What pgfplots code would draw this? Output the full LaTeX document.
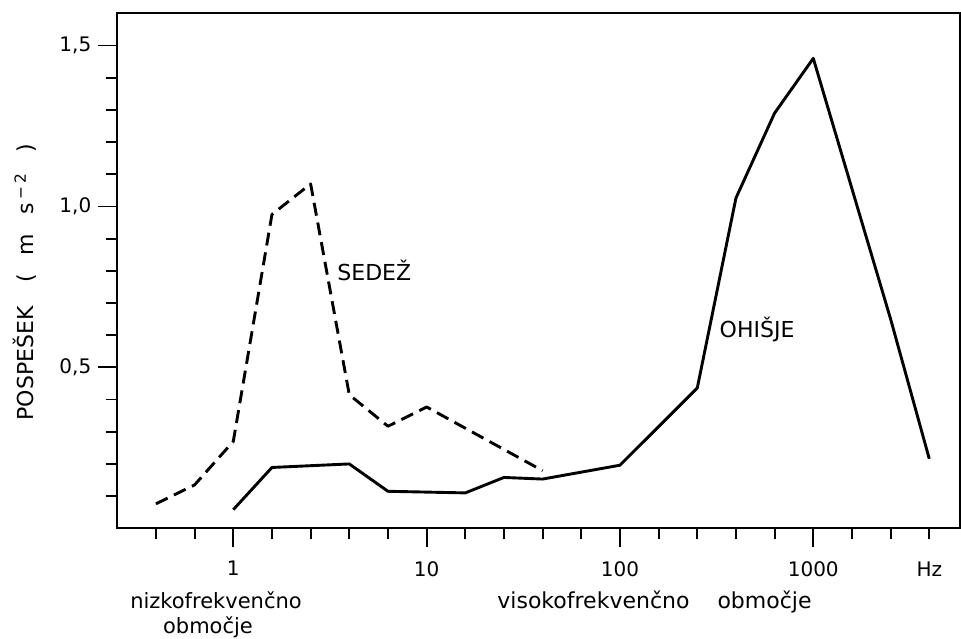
\documentclass[border=0pt]{standalone}
\usepackage{fontspec}
\setmainfont{DejaVu Sans}
\usepackage{pgfplots}
\pgfplotsset{compat=1.18}
\pgfplotstableread{
x y
0.3981 0.076
0.6310 0.135
1.0000 0.270
1.5849 0.975
2.5119 1.070
3.9811 0.415
6.3096 0.317
10.000 0.377
39.811 0.179
}\sedez
\pgfplotstableread{
x y
1.0000 0.058
1.5849 0.189
3.9811 0.200
6.3096 0.115
15.849 0.110
25.119 0.158
39.811 0.153
100.00 0.196
251.19 0.436
398.11 1.026
630.96 1.290
1000.0 1.460
2511.9 0.650
3981.1 0.216
}\ohisje
\begin{document}
\begin{tikzpicture}
\useasboundingbox (0,0) rectangle (480.5pt,319pt);
\begin{axis}[
  at={(58.65pt,54.85pt)}, anchor=south west,
  scale only axis, width=421.35pt, height=257.5pt,
  xmode=log, xmin=0.2512, xmax=5741, ymin=0, ymax=1.6,
  axis line style={line width=0.9pt},
  tick align=outside, tick pos=left,
  major tick length=9.5pt, minor tick length=5.5pt,
  every tick/.style={black, line width=0.9pt},
  xtick={1,10,100,1000}, xticklabels={1,10,100,1000},
  xticklabel shift=3.5pt,
  minor xtick={0.3981,0.6310,1.5849,2.5119,3.9811,6.3096,15.849,25.119,39.811,63.096,158.49,251.19,398.11,630.96,1584.9,2511.9},
  extra x ticks={3981.1}, extra x tick labels={Hz},
  extra x tick style={major tick length=5.5pt, xticklabel shift=8pt},
  ytick={0.5,1,1.5}, yticklabels={{0,5},{1,0},{1,5}},
  minor ytick={0.1,0.2,0.3,0.4,0.6,0.7,0.8,0.9,1.1,1.2,1.3,1.4},
  tick label style={font=\fontsize{10}{12}\selectfont},
  clip=false,
]
\addplot[black, line width=1.45pt, dash pattern=on 6.5pt off 3.5pt, line join=round] table[x=x,y=y] {\sedez};
\addplot[black, line width=1.45pt, line join=round] table[x=x,y=y] {\ohisje};
\node[anchor=west, inner sep=0pt, font=\fontsize{11}{13}\selectfont] at (axis cs:3.44,0.802) {SEDEŽ};
\node[anchor=west, inner sep=0pt, font=\fontsize{11}{13}\selectfont] at (axis cs:326.6,0.617) {OHIŠJE};
\node[rotate=90, inner sep=0pt, font=\fontsize{11}{13}\selectfont] at (rel axis cs:-0.1095,0.478) {POSPEŠEK\hspace{12pt}(\hspace{9pt}m\hspace{10pt}s\hspace{2pt}\textsuperscript{−\hspace{1.5pt}2}\hspace{10pt})};
\node[anchor=base, font=\fontsize{10.5}{12}\selectfont] at (rel axis cs:0.1171,-0.1553) {nizkofrekvenčno};
\node[anchor=base, font=\fontsize{10.5}{12}\selectfont] at (rel axis cs:0.1076,-0.2052) {območje};
\node[anchor=base west, inner sep=0pt, font=\fontsize{11}{13}\selectfont] at (rel axis cs:0.4506,-0.1553) {visokofrekvenčno\hspace{14pt}območje};
\end{axis}
\end{tikzpicture}
\end{document}
